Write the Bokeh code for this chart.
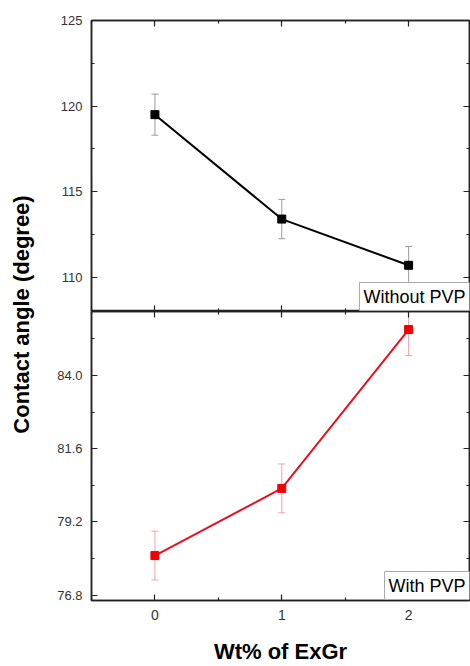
import math
from bokeh.plotting import figure
from bokeh.models import (ColumnDataSource, Range1d, LinearAxis, FixedTicker,
                          NumeralTickFormatter, Whisker, TeeHead, Label)
from bokeh.layouts import row, column
from bokeh.embed import file_html
from bokeh.resources import INLINE

# ---- data ----
wt = [0, 1, 2]
without_pvp = [119.5, 113.4, 110.7]
without_err = [1.2, 1.15, 1.1]
with_pvp = [78.1, 80.3, 85.5]
with_err = [0.8, 0.8, 0.85]

x_ticks = [0, 1, 2]
x_minor = [-0.5, 0.5, 1.5, 2.5]
top_ticks = [110, 115, 120, 125]
top_minor = [107.5, 112.5, 117.5, 122.5]
bot_ticks = [76.8, 79.2, 81.6, 84.0]
bot_minor = [78.0, 80.4, 82.8, 85.2]

FONT = "Liberation Sans"
AX = "#222222"
X0, X1 = -0.5, 2.48

def style_axis(ax, ticks, minor, labels=True, fmt=None, size="13px"):
    ax.ticker = FixedTicker(ticks=ticks, minor_ticks=minor)
    ax.major_tick_in = 6
    ax.major_tick_out = 0
    ax.minor_tick_in = 3
    ax.minor_tick_out = 0
    ax.axis_line_color = AX
    ax.axis_line_width = 1.5
    ax.major_tick_line_color = AX
    ax.minor_tick_line_color = AX
    ax.major_tick_line_width = 1.2
    ax.minor_tick_line_width = 1.2
    ax.major_label_text_font = FONT
    if fmt is not None:
        ax.formatter = fmt
    if labels:
        ax.major_label_text_color = "#333333"
        ax.major_label_text_font_size = size
        ax.major_label_standoff = 9
    else:
        ax.major_label_text_color = None
        ax.major_label_text_font_size = "0px"
        ax.major_label_standoff = 0

def make_fig(h, ylo, yhi, top_border, bottom_border):
    p = figure(width=419, height=h, x_range=Range1d(X0, X1), y_range=Range1d(ylo, yhi),
               output_backend="svg", toolbar_location=None,
               min_border_left=40, min_border_right=1,
               min_border_top=top_border, min_border_bottom=bottom_border,
               x_axis_location=None, y_axis_location=None)
    p.xgrid.visible = False
    p.ygrid.visible = False
    p.outline_line_color = AX
    p.outline_line_width = 1.5
    p.background_fill_color = "white"
    p.border_fill_color = "white"
    return p

# ---- top panel: without PVP ----
top = make_fig(311, 108, 125, 20, 0)
ly = LinearAxis(); style_axis(ly, top_ticks, top_minor); top.add_layout(ly, "left")
ry = LinearAxis(); style_axis(ry, top_ticks, top_minor, labels=False); top.add_layout(ry, "right")
ax_ = LinearAxis(); style_axis(ax_, x_ticks, x_minor, labels=False); top.add_layout(ax_, "above")
bx = LinearAxis(); style_axis(bx, x_ticks, x_minor, labels=False); top.add_layout(bx, "below")

src_t = ColumnDataSource(dict(x=wt, y=without_pvp,
                              lo=[v - e for v, e in zip(without_pvp, without_err)],
                              hi=[v + e for v, e in zip(without_pvp, without_err)]))
wt_top = Whisker(base="x", lower="lo", upper="hi", source=src_t, dimension="height",
                 line_color="#9a9a9a", line_width=1,
                 upper_head=TeeHead(size=7, line_color="#9a9a9a", line_width=1),
                 lower_head=TeeHead(size=7, line_color="#9a9a9a", line_width=1))
top.add_layout(wt_top)
top.line("x", "y", source=src_t, line_color="black", line_width=2)
top.scatter("x", "y", source=src_t, marker="square", size=8, color="black")
top.add_layout(Label(x=X1, y=108, text="Without PVP", text_align="right", text_baseline="bottom",
                     text_font=FONT, text_font_size="18px", text_color="black",
                     background_fill_color="white", border_line_color="#aaaaaa",
                     border_line_width=1, padding=4, y_offset=1))

# ---- bottom panel: with PVP ----
bot = make_fig(355, 76.63, 86.09, 0, 64)
ly2 = LinearAxis(); style_axis(ly2, bot_ticks, bot_minor, fmt=NumeralTickFormatter(format="0.0")); bot.add_layout(ly2, "left")
ry2 = LinearAxis(); style_axis(ry2, bot_ticks, bot_minor, labels=False); bot.add_layout(ry2, "right")
ax2 = LinearAxis(); style_axis(ax2, x_ticks, x_minor, labels=False); bot.add_layout(ax2, "above")
bx2 = LinearAxis(); style_axis(bx2, x_ticks, x_minor, size="14px")
bx2.axis_label = "Wt% of ExGr"
bx2.axis_label_text_font = FONT
bx2.axis_label_text_font_style = "bold"
bx2.axis_label_text_font_size = "22px"
bx2.axis_label_text_color = "black"
bx2.axis_label_standoff = 16
bot.add_layout(bx2, "below")

src_b = ColumnDataSource(dict(x=wt, y=with_pvp,
                              lo=[v - e for v, e in zip(with_pvp, with_err)],
                              hi=[v + e for v, e in zip(with_pvp, with_err)]))
wb = Whisker(base="x", lower="lo", upper="hi", source=src_b, dimension="height",
             line_color="#f2a0a8", line_width=1,
             upper_head=TeeHead(size=7, line_color="#f2a0a8", line_width=1),
             lower_head=TeeHead(size=7, line_color="#f2a0a8", line_width=1))
bot.add_layout(wb)
bot.line("x", "y", source=src_b, line_color="#e8101e", line_width=2)
bot.scatter("x", "y", source=src_b, marker="square", size=8, color="#f00000")
bot.add_layout(Label(x=X1, y=76.63, text="With PVP", text_align="right", text_baseline="bottom",
                     text_font=FONT, text_font_size="18px", text_color="black",
                     background_fill_color="white", border_line_color="#aaaaaa",
                     border_line_width=1, padding=4, y_offset=1))

# ---- left strip with the shared y title ----
left = figure(width=51, height=666, x_range=Range1d(0, 51), y_range=Range1d(0, 666),
              output_backend="svg", toolbar_location=None, min_border=0,
              x_axis_location=None, y_axis_location=None)
left.xgrid.visible = False
left.ygrid.visible = False
left.outline_line_color = None
left.add_layout(Label(x=21, y=352, text="Contact angle (degree)", angle=math.pi / 2,
                      text_align="center", text_baseline="middle", text_font=FONT,
                      text_font_style="bold", text_font_size="22px", text_color="black"))
left.add_layout(Label(x=6, y=5, text="(a)", text_align="left", text_baseline="top",
                      text_font=FONT, text_font_size="22px", text_color="black"))

layout = row(left, column(top, bot, spacing=0), spacing=0)

with open("out.html", "w") as f:
    f.write(file_html(layout, INLINE))
